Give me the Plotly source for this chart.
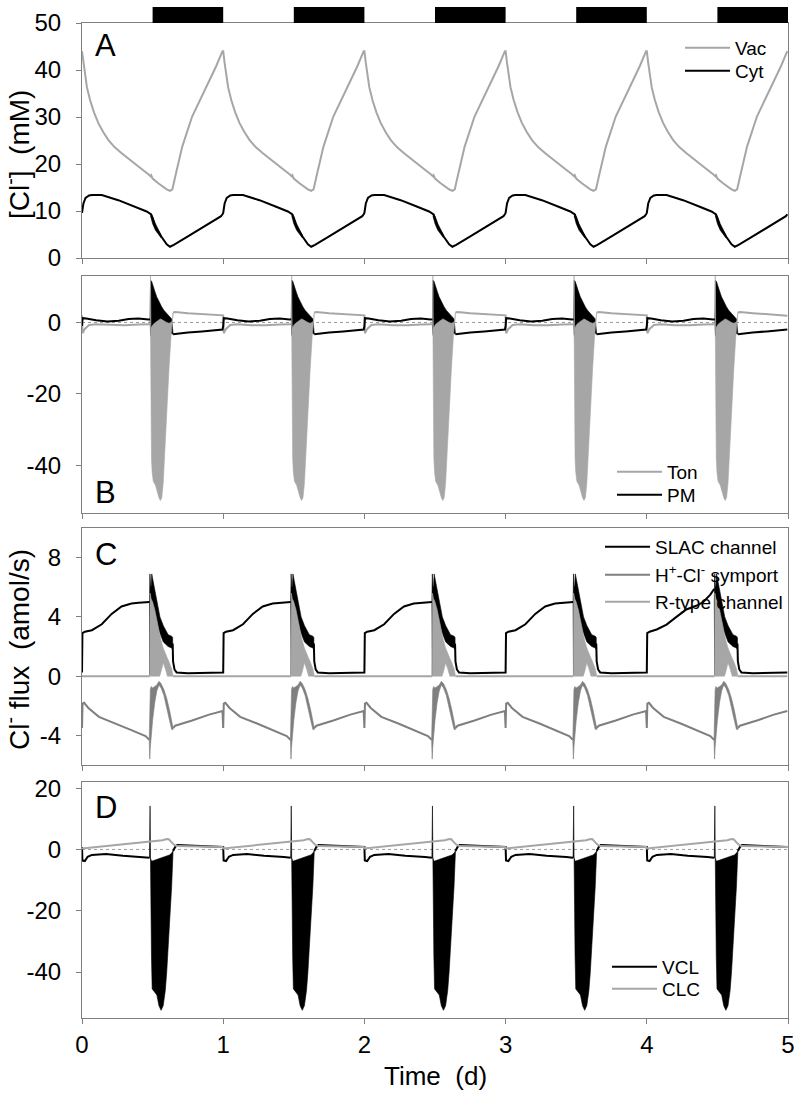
import plotly.graph_objects as go

FONT = "Liberation Sans, Arial, sans-serif"
DAYS = [0, 1, 2, 3, 4]
DAY_TICKS = [0, 1, 2, 3, 4, 5]
dark_start = [0.5, 1.5, 2.5, 3.5, 4.5]
dark_end = [1.0, 2.0, 3.0, 4.0, 5.0]

# tick values / labels
a_ticks = [0, 10, 20, 30, 40, 50]
b_ticks = [-40, -20, 0]
c_ticks = [-4, 0, 4, 8]
d_ticks = [-40, -20, 0, 20]

# ---------------- Panel A : [Cl-] (mM), one daily cycle (phase in days) -------
vac_t = [0.0, 0.01, 0.02, 0.035, 0.057, 0.085, 0.116, 0.15, 0.187, 0.23, 0.281, 0.33, 0.375,
         0.42, 0.47, 0.485, 0.49, 0.50, 0.54, 0.60, 0.623, 0.64, 0.66, 0.71, 0.78, 0.84,
         0.90, 0.95, 0.995]
vac_y = [44.0, 41.5, 39.3, 36.3, 33.6, 31.0, 28.7, 26.8, 25.1, 23.6, 22.3, 21.2, 20.1,
         19.0, 17.8, 17.4, 17.6, 16.9, 15.9, 14.6, 14.3, 14.6, 17.3, 23.7, 30.1, 33.8,
         37.5, 40.8, 44.0]
cyt_t = [0.0, 0.01, 0.025, 0.05, 0.07, 0.14, 0.257, 0.375, 0.458, 0.49, 0.52, 0.565,
         0.60, 0.623, 0.65, 0.75, 0.85, 0.95, 0.985, 0.995]
cyt_y = [9.6, 11.6, 12.8, 13.3, 13.4, 13.4, 12.3, 10.9, 9.9, 9.3, 6.6, 4.4,
         2.9, 2.4, 2.8, 4.6, 6.4, 8.2, 8.9, 9.3]
cytb_t = [0.485, 0.50, 0.52, 0.54, 0.56]
cytb_hi = [9.5, 8.9, 7.3, 6.0, 4.9]
cytb_lo = [9.0, 7.3, 5.9, 5.0, 4.3]

# ---------------- Panel B : Cl- flux across tonoplast / plasma membrane -------
ton_day_t = [0.0, 0.004, 0.02, 0.05, 0.10, 0.20, 0.30, 0.40, 0.47, 0.482]
ton_day_y = [2.0, -3.0, -1.8, -0.7, -0.5, -0.75, -0.8, -0.6, -0.4, -0.5]
ton_night_t = [0.645, 0.66, 0.75, 0.85, 0.95, 0.995]
ton_night_y = [2.8, 2.9, 2.6, 2.3, 2.0, 1.9]
tonb_t = [0.482, 0.485, 0.488, 0.492, 0.497, 0.505, 0.52, 0.53, 0.545, 0.555, 0.565,
          0.575, 0.585, 0.60, 0.616, 0.63, 0.64, 0.645]
tonb_hi = [-0.5, 13.0, -1.0, -1.5, -1.0, -0.5, 0.0, 0.3, 0.8, 1.0, 0.8,
           0.5, 0.3, 0.0, -0.2, 0.0, 0.5, 2.8]
tonb_lo = [-0.6, -0.6, -4.0, -38.0, -42.0, -44.5, -45.5, -46.5, -49.0, -49.8, -49.0,
           -45.0, -38.0, -27.0, -13.0, -4.0, -1.0, 2.8]

pm_day_t = [0.0, 0.004, 0.03, 0.10, 0.18, 0.26, 0.33, 0.40, 0.47, 0.482]
pm_day_y = [-1.0, 1.2, 1.1, 0.6, 0.3, 0.5, 1.0, 1.1, 0.8, 0.9]
pm_night_t = [0.645, 0.66, 0.75, 0.85, 0.95, 0.995]
pm_night_y = [-3.3, -3.2, -2.8, -2.5, -2.2, -2.0]
pmb_t = [0.482, 0.486, 0.493, 0.50, 0.515, 0.529, 0.55, 0.564, 0.58, 0.60, 0.62, 0.635, 0.645]
pmb_hi = [0.9, 11.8, 11.5, 10.5, 8.8, 7.2, 5.2, 4.4, 3.4, 2.6, 1.8, 1.0, -3.2]
pmb_lo = [0.7, -3.5, -4.2, -3.5, -2.6, -1.8, -1.0, -0.8, -1.2, -1.8, -2.5, -3.1, -3.3]

# ---------------- Panel C : Cl- flux by transporter (amol/s) -----------------
slac_day_t = [0.0, 0.003, 0.02, 0.07, 0.14, 0.21, 0.28, 0.35, 0.40, 0.45, 0.478]
slac_day_y = [0.25, 2.9, 3.0, 3.1, 3.5, 4.2, 4.7, 4.9, 4.95, 4.95, 5.0]
slac_day_y_d4 = [0.25, 2.9, 3.0, 3.15, 3.48, 4.0, 4.5, 4.75, 5.0, 5.5, 5.9]
slac_night_t = [0.642, 0.645, 0.655, 0.67, 0.75, 0.85, 0.95, 0.995]
slac_night_y = [2.2, 1.0, 0.45, 0.25, 0.2, 0.22, 0.25, 0.25]
slacb_t = [0.478, 0.481, 0.486, 0.49, 0.494, 0.50, 0.515, 0.53, 0.552, 0.576, 0.61, 0.635, 0.642]
slacb_hi = [5.0, 6.9, 6.0, 6.1, 6.9, 6.6, 5.6, 5.1, 4.0, 3.4, 2.8, 2.7, 2.6]
slacb_lo = [5.0, 0.05, 4.6, 5.0, 5.2, 4.8, 3.9, 3.4, 2.9, 2.3, 2.0, 1.9, 1.8]

sym_day_t = [0.0, 0.004, 0.015, 0.045, 0.12, 0.24, 0.35, 0.45, 0.476]
sym_day_y = [-3.5, -1.85, -1.8, -2.15, -2.75, -3.2, -3.65, -4.05, -4.3]
sym_night_t = [0.645, 0.66, 0.78, 0.84, 0.90, 0.995]
sym_night_y = [-3.5, -3.35, -3.0, -2.8, -2.6, -2.35]
symb_t = [0.476, 0.48, 0.484, 0.49, 0.50, 0.515, 0.53, 0.545, 0.56, 0.58, 0.60, 0.62, 0.635, 0.645]
symb_hi = [-4.3, -1.0, -0.9, -0.7, -0.8, -0.7, -0.6, -0.35, -0.5, -0.9, -1.5, -2.3, -2.9, -3.5]
symb_lo = [-4.3, -5.6, -4.8, -4.0, -3.0, -1.8, -1.0, -0.6, -0.8, -1.3, -2.2, -3.0, -3.6, -3.6]

rtype_day_t = [0.0, 0.48]
rtype_day_y = [0.0, 0.0]
rtype_night_t = [0.645, 0.995]
rtype_night_y = [0.0, 0.0]
rtypeb_t = [0.48, 0.482, 0.49, 0.50, 0.515, 0.53, 0.55, 0.56, 0.575, 0.59, 0.605, 0.615, 0.635, 0.645]
rtypeb_hi = [0.0, 5.6, 5.2, 5.0, 4.5, 3.8, 2.8, 2.4, 1.9, 1.5, 1.2, 1.0, 0.5, 0.0]
rtypeb_lo = [0.0, 0.0, 0.0, 0.0, 0.0, 0.0, 0.0, 0.3, 0.9, 0.5, 0.0, 0.0, 0.0, 0.0]

# ---------------- Panel D : vacuolar transporters ---------------------------
vcl_day_t = [0.0, 0.003, 0.02, 0.04, 0.07, 0.17, 0.29, 0.43, 0.478]
vcl_day_y = [0.8, -3.6, -3.8, -2.4, -1.8, -1.5, -2.1, -2.5, -2.7]
vcl_night_t = [0.645, 0.66, 0.675, 0.72, 0.85, 0.995]
vcl_night_y = [-0.5, 0.8, 1.4, 1.3, 1.1, 0.8]
vclb_t = [0.478, 0.482, 0.485, 0.488, 0.492, 0.497, 0.51, 0.53, 0.545, 0.56, 0.575,
          0.59, 0.60, 0.62, 0.635, 0.645]
vclb_hi = [-2.7, 14.2, -2.8, -3.5, -3.8, -3.8, -3.6, -3.3, -3.0, -2.8, -2.6,
           -2.4, -2.2, -1.8, -1.2, -0.5]
vclb_lo = [-2.7, -2.7, -3.0, -4.0, -35.0, -45.5, -46.5, -47.5, -51.0, -52.5, -51.0,
           -46.0, -40.0, -26.0, -12.0, -0.5]
clc_t = [0.0, 0.1, 0.2, 0.3, 0.4, 0.48, 0.52, 0.57, 0.60, 0.615, 0.635, 0.65, 0.67, 0.8, 0.995]
clc_y = [0.3, 0.8, 1.3, 1.8, 2.3, 2.6, 2.9, 3.0, 3.4, 3.3, 2.3, 1.6, 1.1, 1.0, 0.8]

BLACK = "#000000"
LGRAY = "#a6a6a6"
MGRAY = "#7f7f7f"
AXC = "#808080"


def tile(t, y):
    xs, ys = [], []
    for d in DAYS:
        xs += [d + v for v in t]
        ys += list(y)
    return xs, ys


def tile_split(day_t, day_y, night_t, night_y, day_y_by_day=None):
    xs, ys = [], []
    for d in DAYS:
        dy = day_y_by_day.get(d, day_y) if day_y_by_day else day_y
        xs += [d + v for v in day_t] + [None] + [d + v for v in night_t]
        ys += list(dy) + [None] + list(night_y)
    return xs, ys


def band(t, hi, lo):
    xs, ys = [], []
    for d in DAYS:
        xs += [d + v for v in t] + [d + v for v in reversed(t)] + [None]
        ys += list(hi) + list(reversed(lo)) + [None]
    return xs, ys


# page pixel -> paper coordinates (body margin removed by post_script)
FIG_W, FIG_H = 797, 1096
M_L, M_R, M_T, M_B = 82, 9, 23, 78
PLOT_W = FIG_W - M_L - M_R
PLOT_H = FIG_H - M_T - M_B


def py(p):
    return (FIG_H - M_B - p) / PLOT_H


def px(p):
    return (p - M_L) / PLOT_W


fig = go.Figure()
legend_layouts = {}
leg_base = dict(xanchor="left", yanchor="middle", bgcolor="rgba(0,0,0,0)", borderwidth=0,
                font=dict(size=19, color="black", family=FONT), itemwidth=45,
                tracegroupgap=0)


def add_line(x, y, color, name, xa, ya, legend, pos, width=2):
    fig.add_trace(go.Scatter(x=x, y=y, mode="lines", name=name, xaxis=xa, yaxis=ya,
                             line=dict(color=color, width=width), legend=legend,
                             connectgaps=False, hoverinfo="skip"))
    legend_layouts[legend] = dict(leg_base, x=px(pos[0] - 55), y=py(pos[1]))


def add_band(x, y, color, xa, ya):
    fig.add_trace(go.Scatter(x=x, y=y, mode="lines", fill="toself", fillcolor=color,
                             line=dict(color=color, width=0.6), xaxis=xa, yaxis=ya,
                             showlegend=False, connectgaps=False, hoverinfo="skip"))


# Panel A
x, y = tile(vac_t, vac_y)
add_line(x, y, LGRAY, "Vac", "x", "y", "legend", (735, 48))
x, y = tile(cyt_t, cyt_y)
add_line(x, y, BLACK, "Cyt", "x", "y", "legend2", (735, 71))
x, y = band(cytb_t, cytb_hi, cytb_lo)
add_band(x, y, BLACK, "x", "y")

# Panel B
x, y = band(pmb_t, pmb_hi, pmb_lo)
add_band(x, y, BLACK, "x2", "y2")
x, y = band(tonb_t, tonb_hi, tonb_lo)
add_band(x, y, LGRAY, "x2", "y2")
x, y = tile_split(ton_day_t, ton_day_y, ton_night_t, ton_night_y)
add_line(x, y, LGRAY, "Ton", "x2", "y2", "legend3", (667, 472))
x, y = tile_split(pm_day_t, pm_day_y, pm_night_t, pm_night_y)
add_line(x, y, BLACK, "PM", "x2", "y2", "legend4", (667, 495))

# Panel C
x, y = band(slacb_t, slacb_hi, slacb_lo)
add_band(x, y, BLACK, "x3", "y3")
x, y = band(symb_t, symb_hi, symb_lo)
add_band(x, y, MGRAY, "x3", "y3")
x, y = band(rtypeb_t, rtypeb_hi, rtypeb_lo)
add_band(x, y, LGRAY, "x3", "y3")
x, y = tile_split(slac_day_t, slac_day_y, slac_night_t, slac_night_y, {4: slac_day_y_d4})
add_line(x, y, BLACK, "SLAC channel", "x3", "y3", "legend5", (655, 547))
x, y = tile_split(sym_day_t, sym_day_y, sym_night_t, sym_night_y)
add_line(x, y, MGRAY, "H<sup>+</sup>-Cl<sup>-</sup> symport", "x3", "y3", "legend6", (655, 575))
x, y = tile_split(rtype_day_t, rtype_day_y, rtype_night_t, rtype_night_y)
add_line(x, y, LGRAY, "R-type channel", "x3", "y3", "legend7", (655, 602))

# Panel D
x, y = band(vclb_t, vclb_hi, vclb_lo)
add_band(x, y, BLACK, "x4", "y4")
x, y = tile_split(vcl_day_t, vcl_day_y, vcl_night_t, vcl_night_y)
add_line(x, y, BLACK, "VCL", "x4", "y4", "legend8", (662, 967))
x, y = tile(clc_t, clc_y)
add_line(x, y, LGRAY, "CLC", "x4", "y4", "legend9", (662, 989))

# ---------------- layout -----------------------------------------------------
TICKFONT = dict(size=24, color="black", family=FONT)
axis_common = dict(showline=True, mirror=True, linecolor=AXC, linewidth=1,
                   ticks="outside", ticklen=5, tickcolor=AXC, showgrid=False,
                   zeroline=False, tickfont=TICKFONT, automargin=False)


def yticks(vals):
    return dict(tickvals=vals, ticktext=[str(v) for v in vals], ticklabelstandoff=10)


xcommon = dict(axis_common, range=[0, 5], tickvals=DAY_TICKS,
               ticktext=[str(v) for v in DAY_TICKS])
layout = dict(
    width=FIG_W, height=FIG_H,
    margin=dict(l=M_L, r=M_R, t=M_T, b=M_B, autoexpand=False),
    paper_bgcolor="white", plot_bgcolor="white",
    font=dict(family=FONT, color="black"),
    xaxis=dict(xcommon, domain=[0, 1], anchor="y", showticklabels=False),
    xaxis2=dict(xcommon, domain=[0, 1], anchor="y2", showticklabels=False, matches="x4"),
    xaxis3=dict(xcommon, domain=[0, 1], anchor="y3", showticklabels=False, matches="x4"),
    xaxis4=dict(xcommon, domain=[0, 1], anchor="y4", ticklabelstandoff=0),
    yaxis=dict(axis_common, domain=[py(258), 1.0], anchor="x", range=[0, 50], **yticks(a_ticks)),
    yaxis2=dict(axis_common, domain=[py(513), py(276)], anchor="x2", range=[-53.3, 13],
                **yticks(b_ticks)),
    yaxis3=dict(axis_common, domain=[py(765), py(528)], anchor="x3", range=[-6, 10],
                **yticks(c_ticks)),
    yaxis4=dict(axis_common, domain=[0, py(782)], anchor="x4", range=[-55, 22],
                **yticks(d_ticks)),
)
layout.update(legend_layouts)

shapes = []
for s, e in zip(dark_start, dark_end):
    shapes.append(dict(type="rect", xref="x", yref="paper", x0=s, x1=e,
                       y0=1.0, y1=py(7), fillcolor="black", line=dict(width=0)))
for ya, xa in [("y2", "x2"), ("y4", "x4")]:
    shapes.append(dict(type="line", xref=f"{xa} domain", yref=ya, x0=0, x1=1, y0=0, y1=0,
                       line=dict(color="#9a9a9a", width=1, dash="dot"), layer="below"))
layout["shapes"] = shapes

ann = []
for letter, p in [("A", 45), ("B", 492), ("C", 555), ("D", 807)]:
    ann.append(dict(text=letter, xref="paper", yref="paper", x=px(93), y=py(p),
                    xanchor="left", yanchor="middle", showarrow=False,
                    font=dict(size=31, color="black", family=FONT)))
ann.append(dict(text="[Cl<sup>-</sup>]  (mM)", xref="paper", yref="paper",
                x=px(17), y=py(155), xanchor="center", yanchor="middle", textangle=-90,
                showarrow=False, font=dict(size=28, color="black", family=FONT)))
ann.append(dict(text="Cl<sup>-</sup> flux  (amol/s)", xref="paper", yref="paper",
                x=px(17), y=py(650), xanchor="center", yanchor="middle", textangle=-90,
                showarrow=False, font=dict(size=28, color="black", family=FONT)))
ann.append(dict(text="Time  (d)", xref="paper", yref="paper",
                x=px(435), y=py(1076), xanchor="center", yanchor="middle",
                showarrow=False, font=dict(size=26, color="black", family=FONT)))
layout["annotations"] = ann

fig.update_layout(**layout)
fig.write_html(
    "out.html",
    config={"displayModeBar": False},
    post_script="document.body.style.margin='0';document.documentElement.style.overflow='hidden';",
)
